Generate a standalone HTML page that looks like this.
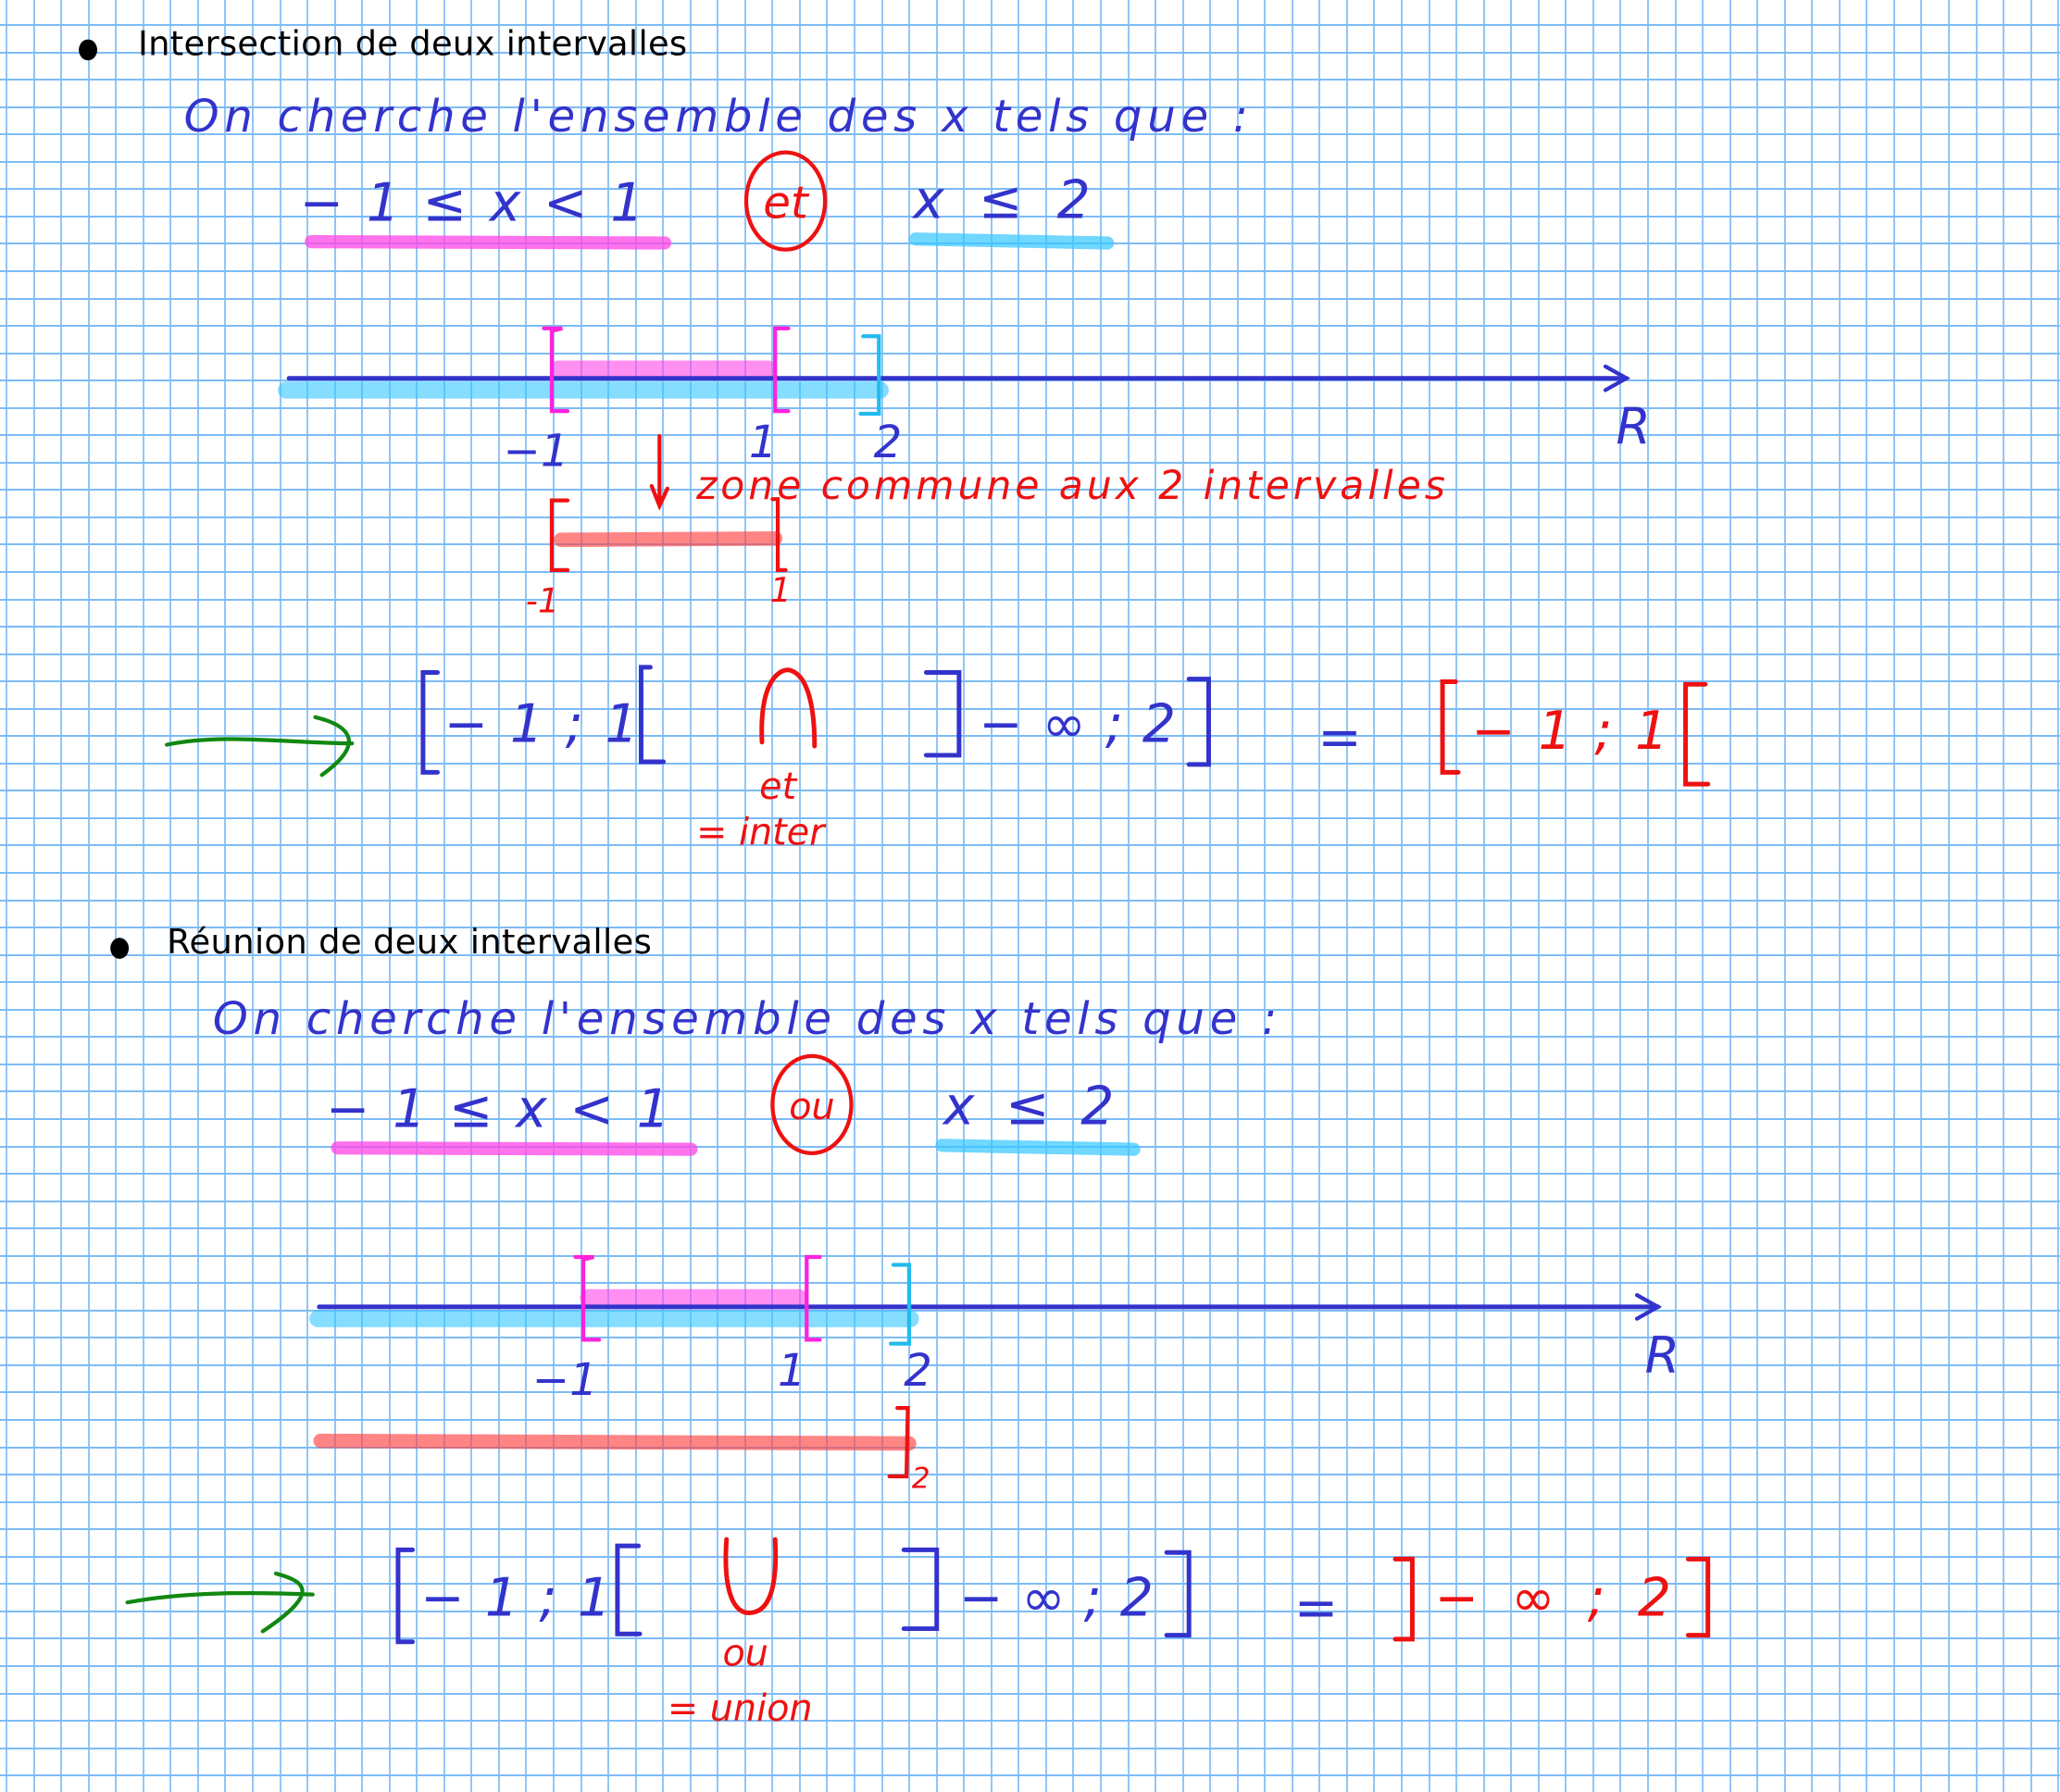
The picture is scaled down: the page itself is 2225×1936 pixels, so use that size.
<!DOCTYPE html>
<html><head><meta charset="utf-8"><style>
html,body{margin:0;padding:0;background:#fff;}
svg{display:block;}
.h{font-family:"DejaVu Sans","Liberation Sans",sans-serif;font-style:italic;}
</style></head><body>
<svg id="s" width="2225" height="1936" viewBox="0 0 2225 1936" xmlns="http://www.w3.org/2000/svg">
<rect width="2225" height="1936" fill="#fff"/>
<g id="grid" stroke="#6eb3f4"></g>
<g transform="scale(1.419)" stroke-linecap="round" fill="none">
<ellipse cx="67" cy="38" rx="7" ry="8" fill="#000" stroke="none"/>
<text x="105" y="42" font-family="DejaVu Sans,sans-serif" font-size="26" fill="#000" stroke="none" textLength="418">Intersection de deux intervalles</text>
<g class="h" fill="#3333cc" stroke="none" font-size="34">
<text x="140" y="100" textLength="810">On cherche   l'ensemble des x  tels que :</text>
<text x="228" y="168" font-size="40" textLength="262">− 1 ≤ x &lt; 1</text>
<text x="695" y="166" font-size="40" textLength="135">x ≤ 2</text>
</g>
<ellipse cx="598" cy="153" rx="30" ry="37" stroke="#ee1111" stroke-width="3"/>
<text x="598" y="166" class="h" font-size="34" fill="#ee1111" text-anchor="middle">et</text>
<line x1="237" y1="184" x2="506" y2="185" stroke="#ff44e6" stroke-opacity=".75" stroke-width="10"/>
<line x1="697" y1="182" x2="843" y2="185" stroke="#33c6ff" stroke-opacity=".7" stroke-width="10"/>
<line x1="218" y1="297" x2="670" y2="297" stroke="#33c6ff" stroke-opacity=".6" stroke-width="13"/>
<line x1="425" y1="281" x2="585" y2="281" stroke="#ff44e6" stroke-opacity=".6" stroke-width="13"/>
<line x1="220" y1="288" x2="1238" y2="288" stroke="#3333cc" stroke-width="3.5"/>
<path d="M1222 279L1238 288L1222 297" stroke="#3333cc" stroke-width="3"/>
<text x="1230" y="338" class="h" font-size="38" fill="#3333cc">R</text>
<path d="M414 250H428L420 252V313H432" stroke="#ff22dd" stroke-width="3"/>
<path d="M600 250H590V313H600" stroke="#ff22dd" stroke-width="3"/>
<path d="M657 256H669V315H655" stroke="#22bbee" stroke-width="3"/>
<g class="h" fill="#3333cc" font-size="34">
<text x="383" y="355">−1</text><text x="570" y="348">1</text><text x="665" y="348">2</text>
</g>
<path d="M502 332V385M496 370L502 385L508 372" stroke="#ee1111" stroke-width="3"/>
<text x="530" y="380" class="h" font-size="30" fill="#ee1111" textLength="570">zone commune  aux 2  intervalles</text>
<line x1="427" y1="411" x2="590" y2="410" stroke="#ff4444" stroke-opacity=".65" stroke-width="11"/>
<path d="M432 381H420V434H432" stroke="#ee1111" stroke-width="3"/>
<path d="M588 380H592V434H598" stroke="#ee1111" stroke-width="3"/>
<g class="h" fill="#ee1111" font-size="26"><text x="400" y="466">-1</text><text x="586" y="458">1</text></g>
<path d="M127 567C170 558 220 566 268 566M240 546C265 552 280 565 245 590" stroke="#118811" stroke-width="3"/>
<g stroke="#3333cc" stroke-width="3.5">
<path d="M333 512H322V588H333"/><path d="M495 508H488V580H505"/>
<path d="M705 512H730V575H705"/><path d="M905 517H920V582H905"/>
</g>
<g class="h" fill="#3333cc" font-size="40">
<text x="338" y="565" textLength="148">− 1 ; 1</text>
<text x="745" y="565" textLength="150">− ∞ ; 2</text>
<text x="1003" y="575">=</text>
</g>
<path d="M580 565C578 520 592 510 600 510C612 512 620 530 620 568" stroke="#ee1111" stroke-width="3.5"/>
<g stroke="#ee1111" stroke-width="3.5">
<path d="M1108 519H1098V588H1110"/><path d="M1298 521H1283V597H1300"/>
</g>
<text x="1120" y="570" class="h" font-size="40" fill="#ee1111" textLength="150">− 1 ; 1</text>
<g class="h" fill="#ee1111" font-size="28"><text x="578" y="608">et</text><text x="530" y="643">= inter</text></g>

<ellipse cx="91" cy="722" rx="7" ry="8" fill="#000" stroke="none"/>
<text x="127" y="726" font-family="DejaVu Sans,sans-serif" font-size="26" fill="#000" stroke="none" textLength="369">Réunion de deux intervalles</text>
<g class="h" fill="#3333cc" stroke="none" font-size="34">
<text x="162" y="787" textLength="810">On cherche   l'ensemble des x  tels que :</text>
<text x="248" y="858" font-size="40" textLength="262">− 1 ≤ x &lt; 1</text>
<text x="718" y="856" font-size="40" textLength="130">x ≤ 2</text>
</g>
<ellipse cx="618" cy="841" rx="30" ry="37" stroke="#ee1111" stroke-width="3"/>
<text x="618" y="852" class="h" font-size="28" fill="#ee1111" text-anchor="middle">ou</text>
<line x1="257" y1="874" x2="526" y2="875" stroke="#ff44e6" stroke-opacity=".75" stroke-width="10"/>
<line x1="717" y1="872" x2="863" y2="875" stroke="#33c6ff" stroke-opacity=".7" stroke-width="10"/>
<line x1="242" y1="1004" x2="693" y2="1004" stroke="#33c6ff" stroke-opacity=".6" stroke-width="13"/>
<line x1="448" y1="988" x2="608" y2="988" stroke="#ff44e6" stroke-opacity=".6" stroke-width="13"/>
<line x1="243" y1="995" x2="1262" y2="995" stroke="#3333cc" stroke-width="3.5"/>
<path d="M1246 986L1262 995L1246 1004" stroke="#3333cc" stroke-width="3"/>
<text x="1252" y="1045" class="h" font-size="38" fill="#3333cc">R</text>
<path d="M438 957H452L444 959V1020H456" stroke="#ff22dd" stroke-width="3"/>
<path d="M624 957H614V1020H624" stroke="#ff22dd" stroke-width="3"/>
<path d="M680 963H692V1023H678" stroke="#22bbee" stroke-width="3"/>
<g class="h" fill="#3333cc" font-size="34">
<text x="405" y="1062">−1</text><text x="592" y="1055">1</text><text x="688" y="1055">2</text>
</g>
<line x1="244" y1="1097" x2="692" y2="1099" stroke="#ff4444" stroke-opacity=".65" stroke-width="11"/>
<path d="M683 1072H691L690 1124H677" stroke="#ee1111" stroke-width="3"/>
<text x="694" y="1133" class="h" font-size="22" fill="#ee1111">2</text>
<path d="M97 1220C140 1212 190 1212 238 1214M210 1198C232 1204 245 1212 200 1242" stroke="#118811" stroke-width="3"/>
<g stroke="#3333cc" stroke-width="3.5">
<path d="M314 1180H303V1250H314"/><path d="M486 1177H470V1244H487"/>
<path d="M688 1180H713V1240H688"/><path d="M888 1182H905V1245H888"/>
</g>
<g class="h" fill="#3333cc" font-size="40">
<text x="320" y="1230" textLength="145">− 1 ; 1</text>
<text x="730" y="1230" textLength="148">− ∞ ; 2</text>
<text x="985" y="1238">=</text>
</g>
<path d="M553 1172C550 1215 560 1228 570 1228C585 1228 592 1210 590 1172" stroke="#ee1111" stroke-width="3.5"/>
<g stroke="#ee1111" stroke-width="3.5">
<path d="M1062 1187H1075V1248H1062"/><path d="M1285 1187H1300V1245H1285"/>
</g>
<text x="1092" y="1230" class="h" font-size="40" fill="#ee1111" textLength="180">− ∞ ; 2</text>
<g class="h" fill="#ee1111" font-size="28"><text x="550" y="1268">ou</text><text x="508" y="1310">= union</text></g>
</g>
</svg>
<script>
(function(){
var g=document.getElementById('grid'),d='';
for(var x=7;x<2225;x+=29.55){var r=Math.round(x);d+='M'+r+' 0V1936';}
var p=document.createElementNS('http://www.w3.org/2000/svg','path');
p.setAttribute('d',d);p.setAttribute('stroke-width','1.5');g.appendChild(p);
d='';
for(var y=27;y<1936;y+=29.55){var r=Math.round(y);d+='M0 '+r+'H2225';}
p=document.createElementNS('http://www.w3.org/2000/svg','path');
p.setAttribute('d',d);p.setAttribute('stroke-width','2');p.setAttribute('stroke','#7dbcf6');g.appendChild(p);
})();
</script>
</body></html>
